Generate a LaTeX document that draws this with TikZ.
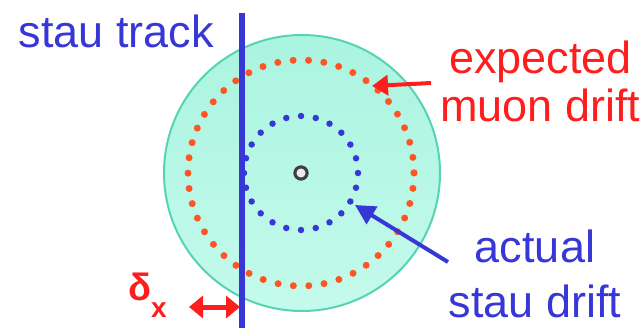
\documentclass[tikz,border=0pt]{standalone}
\usepackage{fontspec}
\setmainfont{Liberation Sans}
\usepackage{tikz}
\usetikzlibrary{arrows.meta,positioning}

\definecolor{trackblue}{RGB}{55,55,215}
\definecolor{labelred}{RGB}{255,30,30}
\definecolor{muonorange}{RGB}{255,85,35}
\definecolor{tubefill}{RGB}{170,244,224}
\definecolor{tubefilllow}{RGB}{196,250,236}
\definecolor{tubeedge}{RGB}{85,212,178}

\begin{document}
\begin{tikzpicture}[
  x=1pt,y=-1pt,
  lbl/.style={font=\fontsize{45}{48}\selectfont,inner sep=0pt,align=center},
  tube/.style={circle,draw=tubeedge,line width=2pt,top color=tubefill,
    bottom color=tubefilllow,minimum size=276pt,inner sep=0pt},
  wiredot/.style={circle,draw=black!75,fill=gray!15,line width=3pt,
    minimum size=12pt,inner sep=0pt},
  muondots/.style={muonorange,line width=7pt,line cap=round,
    dash pattern=on 0pt off 15.43pt},
  staudots/.style={trackblue,line width=6.5pt,line cap=round,
    dash pattern=on 0pt off 14.92pt},
  trackline/.style={trackblue,line width=6pt},
  redarrow/.style={labelred,line width=4pt,-{Triangle[length=16pt,width=20pt]}},
  bluearrow/.style={trackblue,line width=4pt,-{Triangle[length=20pt,width=20pt]}},
  dblarrow/.style={labelred,line width=5pt,
    {Triangle[length=14pt,width=22pt]}-{Triangle[length=14pt,width=22pt]}}
]
  \useasboundingbox (0,0) rectangle (643,327);

  % drift tube and the wire in its middle
  \node[tube] (tubeA) at (302,173) {};
  \node[wiredot] (wire) at (301,173) {};

  % drift circles
  \draw[muondots] (wire) circle[radius=113];
  \draw[staudots] (wire) circle[radius=57];
  \node[wiredot] at (wire) {};

  % the stau track
  \coordinate (trktop) at (242,13);
  \coordinate (trkbot) at (242,335);
  \draw[trackline] (trktop) -- (trkbot);

  % labels
  \node[lbl,text=trackblue,anchor=base] (trklbl) at (116.5,47) {stau track};
  \node[lbl,text=labelred,anchor=base] (muonlbl) at (540.5,121)
    {expected\\muon drift};
  \node[lbl,text=trackblue,anchor=base,
    font=\fontsize{45}{55}\selectfont] (staulbl) at (535,317)
    {actual\\stau drift};
  \node[inner sep=0pt,text=labelred,anchor=base west,font=\bfseries] (dlbl) at (128,300)
    {\fontsize{38}{38}\selectfont δ\raisebox{-17pt}{\fontsize{28}{28}\selectfont x}};

  % pointers
  \coordinate (mtail) at (431,83);
  \coordinate (mtip) at (372,86);
  \draw[redarrow] (mtail) -- (mtip);

  \coordinate (stail) at (448,262);
  \coordinate (stip) at (355,205);
  \draw[bluearrow] (stail) -- (stip);

  % offset between track and expected drift circle
  \coordinate (dleft) at (189,307);
  \coordinate (dright) at (240,307);
  \draw[dblarrow] (dleft) -- (dright);
\end{tikzpicture}
\end{document}
